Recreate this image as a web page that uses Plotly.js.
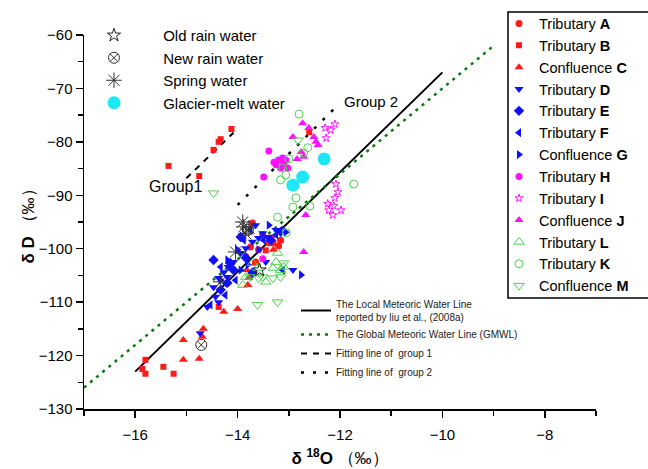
<!DOCTYPE html>
<html><head><meta charset="utf-8">
<script src="https://cdn.plot.ly/plotly-3.0.1.min.js"></script>
<style>html,body{margin:0;padding:0;background:#fff}#chart{width:648px;height:469px}</style>
</head><body><div id="chart"></div>
<script>
// ---- data (δ18O, δD) ----
const triA_x = [-13.71,-13.51,-13.35,-13.39,-13.16,-13.2,-13.84,-13.65,-13.75,-13.59];
const triA_y = [-95.2,-97.4,-98.0,-98.9,-98.4,-99.5,-101.5,-102.5,-99.7,-100.2];
const triB_x = [-15.35,-14.75,-14.47,-14.37,-14.33,-14.12,-12.6,-15.8,-15.86,-15.8,-15.45,-15.25,-14.37,-13.3,-13.45];
const triB_y = [-84.5,-86.4,-81.5,-80.0,-79.5,-77.6,-78.2,-120.8,-122.5,-123.4,-122.1,-123.4,-110.9,-99.0,-100.3];
const confC_x = [-15.06,-14.67,-14.69,-15.06,-14.75,-14.27,-14.0,-13.82,-13.78,-13.8,-13.3,-13.65];
const confC_y = [-117.1,-115.0,-116.5,-120.8,-120.6,-111.8,-111.3,-104.0,-105.5,-106.8,-100.2,-102.7];
const triD_x = [-13.51,-13.41,-13.25,-13.16,-13.59,-13.71,-13.84,-13.94,-14.08,-14.18,-14.27,-14.37,-14.47,-14.43,-14.37,-14.59,-14.2,-13.45,-12.92,-14.73,-13.65];
const triD_y = [-97.1,-97.8,-96.5,-97.1,-98.0,-98.7,-99.9,-100.8,-102.5,-103.4,-104.4,-105.5,-107.2,-109.0,-110.0,-110.9,-105.3,-102.5,-104.0,-115.8,-95.6];
const triE_x = [-14.47,-14.14,-14.08,-14.2,-14.33,-13.71,-13.84,-13.35,-13.94];
const triE_y = [-102.1,-102.7,-104.0,-106.4,-107.7,-104.5,-101.7,-98.4,-97.8];
const triF_x = [-13.25,-13.16,-13.49,-13.88,-14.33,-14.04,-13.12,-14.24,-14.53,-13.75];
const triF_y = [-97.4,-96.5,-98.4,-98.4,-103.4,-105.9,-104.0,-108.7,-110.5,-96.5];
const confG_x = [-13.39,-13.59,-14.0,-14.2,-13.8,-13.06,-14.33,-13.94,-12.76];
const confG_y = [-95.6,-100.2,-100.2,-102.1,-103.0,-96.9,-105.9,-104.0,-104.9];
const triH_x = [-13.39,-13.29,-13.2,-13.12,-13.1,-13.02,-13.16,-13.25,-13.49,-13.06,-13.51];
const triH_y = [-81.7,-83.8,-83.4,-83.0,-84.0,-84.9,-84.9,-84.3,-86.6,-83.4,-101.9];
const triI_x = [-12.29,-12.18,-12.1,-12.27,-12.08,-12.04,-12.1,-12.24,-12.12,-12.22,-12.14,-11.98];
const triI_y = [-77.4,-77.8,-76.7,-79.3,-87.9,-89.4,-90.5,-91.6,-92.0,-92.8,-93.7,-92.8];
const confJ_x = [-12.73,-12.61,-12.92,-12.51,-12.47,-12.43,-12.76,-12.84,-12.71,-12.67,-12.71];
const confJ_y = [-76.5,-77.4,-79.1,-79.1,-80.0,-80.6,-81.9,-83.2,-82.8,-93.7,-100.6];
const triL_x = [-13.22,-13.25,-13.71,-13.84,-13.9,-13.31,-13.16,-13.1,-13.61,-13.45];
const triL_y = [-100.8,-102.5,-102.7,-105.3,-106.8,-103.6,-104.0,-103.4,-103.6,-106.2];
const triK_x = [-12.8,-12.63,-12.71,-13.0,-13.12,-13.06,-13.16,-12.86,-12.92,-12.59,-13.22,-11.73,-13.05];
const triK_y = [-74.8,-81.1,-82.1,-83.2,-84.9,-86.2,-87.1,-90.5,-92.2,-92.0,-94.1,-87.9,-97.0];
const confM_x = [-14.47,-12.82,-13.51,-13.31,-13.16,-13.1,-13.59,-13.22,-13.61,-13.75];
const confM_y = [-89.6,-79.7,-105.3,-105.5,-105.3,-102.7,-105.5,-110.0,-110.5,-105.3];
const oldRain_x = [-13.57];
const oldRain_y = [-104.0];
const newRain_x = [-14.71,-13.8];
const newRain_y = [-118.0,-96.5];
const spring_x = [-13.88,-13.78,-13.84,-13.9,-14.04,-14.33];
const spring_y = [-95.9,-96.1,-97.2,-95.0,-100.6,-106.2];
const glacier_x = [-12.31,-12.73,-12.92];
const glacier_y = [-83.2,-86.6,-88.1];
// lines
const lmwl_x = [-16,-10];
const lmwl_y = [-123,-67];
const gmwl_x = [-17,-9];
const gmwl_y = [-126,-62];
const g1_x = [-15.0,-14.08];
const g1_y = [-86.8,-78.3];
const g2_x = [-14.0,-12.04];
const g2_y = [-91.8,-73.1];
const seriesNames = ['Tributary <b>A</b>','Tributary <b>B</b>','Confluence <b>C</b>','Tributary <b>D</b>','Tributary <b>E</b>','Tributary <b>F</b>','Confluence <b>G</b>','Tributary <b>H</b>','Tributary <b>I</b>','Confluence <b>J</b>','Tributary <b>L</b>','Tributary <b>K</b>','Confluence <b>M</b>'];
const sourceNames = ['Old rain water','New rain water','Spring water','Glacier-melt water'];
const lineNames = ['The Local Meteoric Water Line<br>reported by liu et al., (2008a)','The Global Meteoric Water Line (GMWL)','Fitting line of  group 1','Fitting line of  group 2'];

const FONT = 'Arial, "Liberation Sans", sans-serif';
const RED = '#ff1a1a', BLUE = '#1010ff', MAG = '#ff10ff', GRN = '#4cd34c';
const W = 648, H = 469;
const PAD = '\u00a0'.repeat(7);

function pts(name, x, y, symbol, color, size, legend, lw) {
  return {type:'scatter', mode:'markers', name:name, x:x, y:y, legend:legend,
    marker:{symbol:symbol, color:color, size:size, line:{color:color, width:lw||0}}, cliponaxis:false};
}
function ln(name, x, y, color, dash, width) {
  return {type:'scatter', mode:'lines', name:name, x:x, y:y, legend:'legend3',
    line:{color:color, dash:dash, width:width}};
}
const data = [
  ln(lineNames[0], lmwl_x, lmwl_y, '#000', 'solid', 2),
  ln(lineNames[1], gmwl_x, gmwl_y, '#0a7a0a', '3px,5px', 2.5),
  ln(lineNames[2], g1_x, g1_y, '#000', '6px,6px', 2),
  ln(lineNames[3], g2_x, g2_y, '#000', '3px,9px', 2.5),
  pts(seriesNames[0], triA_x, triA_y, 'circle', RED, 7, 'legend'),
  pts(seriesNames[1], triB_x, triB_y, 'square', RED, 6, 'legend'),
  pts(seriesNames[2], confC_x, confC_y, 'triangle-up', RED, 8, 'legend'),
  pts(seriesNames[3], triD_x, triD_y, 'triangle-down', BLUE, 8, 'legend'),
  pts(seriesNames[4], triE_x, triE_y, 'diamond', BLUE, 8, 'legend'),
  pts(seriesNames[5], triF_x, triF_y, 'triangle-left', BLUE, 8, 'legend'),
  pts(seriesNames[6], confG_x, confG_y, 'triangle-right', BLUE, 8, 'legend'),
  pts(seriesNames[7], triH_x, triH_y, 'circle', MAG, 7, 'legend'),
  pts(seriesNames[8], triI_x, triI_y, 'star-open', MAG, 6, 'legend', 1),
  pts(seriesNames[9], confJ_x, confJ_y, 'triangle-up', MAG, 8, 'legend'),
  pts(seriesNames[10], triL_x, triL_y, 'triangle-up-open', GRN, 9, 'legend', 1),
  pts(seriesNames[11], triK_x, triK_y, 'circle-open', GRN, 8, 'legend', 1),
  pts(seriesNames[12], confM_x, confM_y, 'triangle-down-open', GRN, 9, 'legend', 1),
  pts(PAD + sourceNames[0], oldRain_x, oldRain_y, 'star-open', '#222', 10, 'legend2', 1),
  pts(PAD + sourceNames[1], newRain_x, newRain_y, 'circle-x-open', '#333', 11, 'legend2', 1),
  pts(PAD + sourceNames[2], spring_x, spring_y, 'asterisk-open', '#333', 13, 'legend2', 1),
  pts(PAD + sourceNames[3], glacier_x, glacier_y, 'circle', '#1fe6f5', 13, 'legend2')
];

const layout = {
  width:W, height:H,
  margin:{l:0, r:0, t:0, b:0},
  paper_bgcolor:'#fff', plot_bgcolor:'rgba(0,0,0,0)',
  font:{family:FONT, color:'#000'},
  showlegend:true,
  xaxis:{domain:[84/W, 596/W], range:[-17,-7], tick0:-16, dtick:2, ticks:'outside', ticklen:7, tickwidth:1.5, tickcolor:'#000',
    minor:{dtick:1, tick0:-17, ticks:'outside', ticklen:5, tickwidth:1.5, tickcolor:'#000'},
    showline:true, linecolor:'#000', linewidth:1.5, showgrid:false, zeroline:false,
    tickfont:{size:15, family:FONT}, ticklabelstandoff:4,
    title:{text:'<b>δ <sup>18</sup>O</b> （‰）', font:{size:17, family:FONT}, standoff:10}},
  yaxis:{domain:[1-409/H, 1-35/H], range:[-130,-60], dtick:10, ticks:'outside', ticklen:7, tickwidth:1.5, tickcolor:'#000',
    minor:{dtick:5, ticks:'outside', ticklen:5, tickwidth:1.5, tickcolor:'#000'},
    showline:true, linecolor:'#000', linewidth:1.5, showgrid:false, zeroline:false,
    tickfont:{size:15, family:FONT},
    title:{text:'<b>δ D</b> （‰）', font:{size:17, family:FONT}, standoff:0}},
  legend:{x:499/W, y:1-7.5/H, xanchor:'left', yanchor:'top', bgcolor:'rgba(0,0,0,0)', borderwidth:0,
    font:{size:14.5, family:FONT}, itemwidth:30, tracegroupgap:0},
  legend2:{x:94/W, y:1-19/H, xanchor:'left', yanchor:'top', bgcolor:'rgba(0,0,0,0)', borderwidth:0,
    font:{size:15, family:FONT}, itemwidth:30},
  legend3:{x:296/W, y:1-291/H, xanchor:'left', yanchor:'top', bgcolor:'rgba(0,0,0,0)', borderwidth:0,
    font:{size:10, family:FONT, color:'#222'}, itemwidth:30},
  shapes:[{type:'rect', xref:'paper', yref:'paper', x0:508/W, x1:1.02, y0:1-298/H, y1:1-12/H,
    line:{color:'#000', width:1.5}, fillcolor:'#fff', layer:'above'}],
  annotations:[
    {x:-15.22, y:-88.3, xref:'x', yref:'y', text:'Group1', showarrow:false, font:{size:16, family:FONT}},
    {x:-11.39, y:-72.5, xref:'x', yref:'y', text:'Group 2', showarrow:false, font:{size:15, family:FONT}}
  ]
};
Plotly.newPlot('chart', data, layout, {displayModeBar:false, staticPlot:true});
</script></body></html>
